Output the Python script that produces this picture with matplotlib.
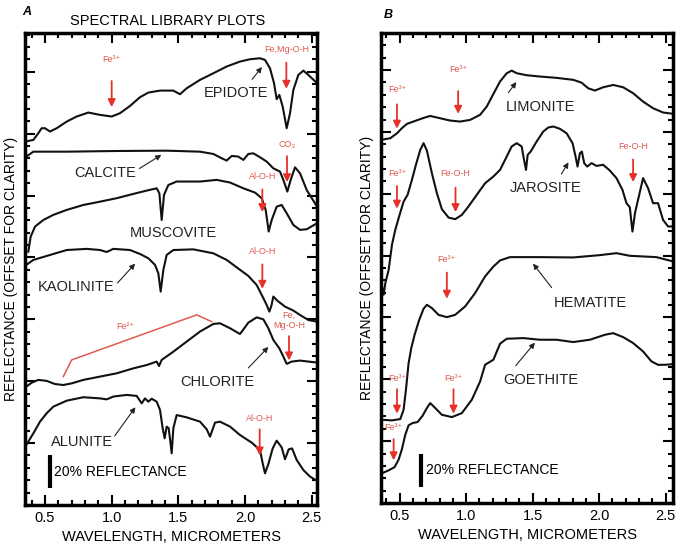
import matplotlib.pyplot as plt
from matplotlib.ticker import MultipleLocator

plt.rcParams['font.family'] = ['Liberation Sans', 'DejaVu Sans']

# ---- panel A spectra (wavelength um, reflectance %, offset for clarity) ----
epidote_wl = [0.35, 0.4125, 0.45, 0.475, 0.5, 0.5375, 0.5875, 0.6625, 0.7375, 0.825, 0.9125, 1.0, 1.0625,
              1.1375, 1.2125, 1.275, 1.3625, 1.4625, 1.5125, 1.5625, 1.6625, 1.7625, 1.8625, 1.9625, 2.0375,
              2.1125, 2.15, 2.1875, 2.2175, 2.2375, 2.2575, 2.2825, 2.3125, 2.3375, 2.3625, 2.4, 2.4375, 2.475, 2.54]
epidote_r = [220.2, 221.2, 225.3, 228.3, 228.3, 226.3, 228.3, 232.3, 235.4, 237.8, 236.4, 235.4, 237.4,
             241.8, 247.1, 249.9, 251.1, 251.1, 248.9, 252.5, 257.6, 261.6, 265.7, 268.7, 270.1,
             270.7, 269.7, 264.6, 255.6, 245.9, 248.5, 241.4, 228.3, 237.4, 251.5, 260.6, 263.2, 260.6, 255.6]

calcite_wl = [0.36, 0.4125, 0.6625, 1.0375, 1.4125, 1.6625, 1.7625, 1.825, 1.8625, 1.9, 1.95, 1.9875, 2.025,
              2.0625, 2.1125, 2.1625, 2.2125, 2.2625, 2.2875, 2.3175, 2.3425, 2.375, 2.4125, 2.4625, 2.54]
calcite_r = [211.1, 214.1, 214.1, 214.5, 214.7, 214.1, 212.7, 210.1, 208.7, 211.5, 211.1, 209.1, 212.7,
             213.1, 210.7, 208.1, 204.0, 202.0, 197.0, 189.9, 197.0, 204.6, 201.0, 190.9, 180.8]

muscovite_wl = [0.375, 0.3925, 0.425, 0.4875, 0.5625, 0.6625, 0.7875, 0.9125, 1.0375, 1.1625, 1.2625, 1.3375,
                1.3575, 1.375, 1.3925, 1.425, 1.4875, 1.6625, 1.7875, 1.8875, 1.9875, 2.075, 2.125, 2.155,
                2.1775, 2.2, 2.2375, 2.275, 2.3125, 2.3625, 2.4125, 2.4625, 2.54]
muscovite_r = [153.5, 162.6, 168.7, 172.7, 175.8, 178.8, 181.8, 183.8, 185.9, 188.5, 190.5, 191.9,
               188.9, 172.7, 187.9, 193.9, 196.0, 196.0, 197.0, 195.4, 191.9, 189.3, 185.9, 178.8,
               165.7, 172.7, 180.8, 181.8, 176.8, 169.7, 166.7, 167.1, 170.7]

kaolinite_wl = [0.36, 0.4125, 0.5375, 0.6625, 0.8125, 0.9125, 0.9625, 1.0125, 1.1375, 1.2125, 1.275, 1.325,
                1.35, 1.3675, 1.3875, 1.4125, 1.4625, 1.6125, 1.7625, 1.8625, 1.9375, 2.025, 2.0875, 2.1375,
                2.1625, 2.1825, 2.1975, 2.2125, 2.2425, 2.3, 2.3625, 2.425, 2.475, 2.54]
kaolinite_r = [145.5, 148.5, 151.5, 154.5, 155.2, 154.5, 153.3, 155.2, 154.5, 152.1, 149.5, 145.5,
               140.4, 129.3, 142.4, 151.5, 154.5, 154.9, 152.5, 148.5, 144.0, 138.8, 133.3, 125.3,
               121.2, 117.2, 120.6, 126.3, 123.8, 120.2, 117.8, 114.5, 112.1, 111.1]

chlorite_wl = [0.36, 0.4, 0.45, 0.5125, 0.575, 0.6375, 0.7, 0.7875, 0.9125, 1.0375, 1.1625, 1.2625, 1.3375,
               1.355, 1.375, 1.4625, 1.5625, 1.6625, 1.7625, 1.8125, 1.8875, 1.9625, 2.025, 2.0875, 2.1375,
               2.175, 2.2125, 2.2575, 2.2875, 2.3125, 2.35, 2.4125, 2.54]
chlorite_r = [71.7, 74.1, 75.8, 75.2, 73.3, 72.7, 73.7, 75.8, 77.8, 79.8, 82.8, 84.8, 86.9,
              84.2, 87.9, 92.9, 99.0, 105.1, 109.7, 110.1, 107.1, 103.6, 110.5, 113.7, 112.5,
              107.1, 100.0, 94.9, 89.9, 85.5, 86.9, 87.5, 86.3]

alunite_wl = [0.36, 0.4125, 0.4625, 0.5125, 0.5625, 0.6625, 0.7875, 0.9125, 0.9625, 1.0125, 1.1125, 1.1875,
              1.225, 1.25, 1.275, 1.3, 1.3375, 1.3625, 1.3825, 1.3975, 1.4125, 1.4275, 1.44, 1.45, 1.4625,
              1.4875, 1.5625, 1.6625, 1.7125, 1.7375, 1.775, 1.8125, 1.8875, 1.9625, 2.05, 2.1125, 2.1325,
              2.15, 2.175, 2.2075, 2.2375, 2.275, 2.3, 2.3275, 2.3525, 2.3875, 2.4375, 2.4875, 2.54]
alunite_r = [36.4, 43.4, 50.5, 55.6, 59.6, 63.2, 65.3, 64.6, 64.0, 65.7, 66.7, 66.1,
             61.6, 64.6, 62.6, 64.4, 62.6, 57.6, 46.5, 40.4, 47.5, 46.5, 38.4, 31.3, 46.5,
             54.5, 53.1, 50.5, 45.9, 41.4, 49.9, 50.5, 47.5, 42.4, 37.8, 33.3, 25.3,
             19.2, 24.8, 34.3, 39.0, 34.9, 27.7, 33.7, 34.3, 27.3, 21.2, 17.2, 14.7]

# ---- panel B spectra ----
limonite_wl = [0.36, 0.43, 0.48, 0.5175, 0.555, 0.6175, 0.68, 0.73, 0.805, 0.88, 0.955, 1.03, 1.105, 1.155,
               1.205, 1.255, 1.305, 1.3425, 1.38, 1.455, 1.555, 1.68, 1.805, 1.8675, 1.9175, 1.9675, 2.03,
               2.105, 2.18, 2.255, 2.33, 2.405, 2.48, 2.555]
limonite_r = [220.2, 221.2, 224.2, 227.3, 229.9, 231.7, 233.5, 234.7, 233.3, 231.9, 231.3, 232.3, 235.4, 240.4,
              248.1, 255.6, 260.6, 262.2, 260.6, 259.4, 258.6, 257.8, 256.6, 254.9, 251.5, 250.1, 252.1,
              253.5, 252.1, 248.5, 243.4, 239.4, 236.8, 236.0]

jarosite_wl = [0.36, 0.3675, 0.38, 0.3925, 0.4175, 0.4425, 0.4675, 0.4975, 0.53, 0.56, 0.5925, 0.6225, 0.655,
               0.68, 0.705, 0.7425, 0.78, 0.8175, 0.8675, 0.9175, 0.9675, 1.0175, 1.08, 1.1425, 1.205, 1.255,
               1.305, 1.3425, 1.38, 1.4175, 1.435, 1.45, 1.4625, 1.485, 1.53, 1.58, 1.6175, 1.655, 1.705,
               1.755, 1.8, 1.8225, 1.8375, 1.855, 1.87, 1.8875, 1.91, 1.9425, 1.98, 2.03, 2.08, 2.13, 2.175,
               2.205, 2.23, 2.25, 2.27, 2.295, 2.33, 2.3675, 2.405, 2.4425, 2.48, 2.5175, 2.555]
jarosite_r = [129.3, 131.3, 126.3, 133.3, 141.4, 156.6, 165.7, 174.1, 182.8, 186.9, 196.0, 205.1, 214.1,
              218.2, 213.7, 200.0, 187.9, 178.2, 173.1, 172.1, 174.7, 179.8, 186.9, 193.9, 198.0, 202.0,
              210.1, 216.2, 218.2, 216.2, 208.1, 202.0, 211.1, 213.1, 219.2, 225.3, 227.7, 228.3, 226.9,
              224.2, 218.2, 210.1, 204.0, 212.1, 213.1, 206.1, 204.0, 206.1, 204.4, 205.1, 201.6, 197.0, 189.9,
              181.8, 179.4, 164.6, 176.2, 184.8, 197.0, 190.9, 181.8, 181.8, 171.7, 167.7, 167.7]

hematite_wl = [0.36, 0.4425, 0.505, 0.53, 0.5475, 0.5675, 0.5875, 0.6125, 0.6475, 0.68, 0.705, 0.7425, 0.7925,
               0.855, 0.9175, 0.9925, 1.0675, 1.1425, 1.205, 1.255, 1.33, 1.555, 1.805, 2.005, 2.13, 2.23,
               2.43, 2.555]
hematite_r = [50.5, 50.1, 50.9, 56.6, 68.7, 84.8, 93.9, 102.0, 111.1, 117.8, 120.2, 118.2, 114.1,
              112.7, 114.1, 119.2, 127.3, 137.4, 143.4, 147.1, 149.1, 149.1, 148.9, 150.3, 151.5, 149.9,
              149.1, 146.5]

goethite_wl = [0.36, 0.4175, 0.4625, 0.4925, 0.5175, 0.5425, 0.5675, 0.5975, 0.635, 0.6725, 0.705, 0.73,
               0.7675, 0.8175, 0.8925, 0.9675, 1.0425, 1.105, 1.1425, 1.205, 1.255, 1.305, 1.43, 1.555,
               1.68, 1.805, 1.93, 2.0425, 2.105, 2.18, 2.255, 2.33, 2.3925, 2.4425, 2.4925, 2.555]
goethite_r = [17.8, 19.8, 21.8, 26.3, 32.7, 41.4, 47.1, 48.5, 49.1, 52.9, 57.6, 60.6,
              57.6, 53.5, 52.1, 54.5, 62.6, 73.7, 83.8, 86.9, 96.6, 99.6, 100.0, 99.0,
              99.0, 97.6, 99.0, 102.0, 103.0, 100.6, 97.0, 91.9, 85.9, 83.8, 83.8, 84.2]

spectra_a = [(epidote_wl, epidote_r), (calcite_wl, calcite_r), (muscovite_wl, muscovite_r),
             (kaolinite_wl, kaolinite_r), (chlorite_wl, chlorite_r), (alunite_wl, alunite_r)]
spectra_b = [(limonite_wl, limonite_r), (jarosite_wl, jarosite_r), (hematite_wl, hematite_r),
             (goethite_wl, goethite_r)]

# mineral names: (text, text x, text y, arrow tail, arrow tip)
names_a = [("EPIDOTE", 1.93, 249.5, (2.04, 256.6), (2.14, 266.7)),
           ("CALCITE", 0.95, 201.0, (1.19, 203.0), (1.39, 213.0)),
           ("MUSCOVITE", 1.46, 164.6, None, None),
           ("KAOLINITE", 0.73, 132.3, (1.03, 133.3), (1.19, 147.5)),
           ("CHLORITE", 1.79, 74.7, (2.01, 81.8), (2.19, 97.0)),
           ("ALUNITE", 0.78, 38.4, (1.01, 40.4), (1.19, 60.6))]
names_b = [("LIMONITE", 1.56, 240.4, (1.305, 247.5), (1.39, 256.6)),
           ("JAROSITE", 1.6, 191.0, (1.705, 198.0), (1.78, 208.0)),
           ("HEMATITE", 1.93, 121.2, (1.655, 129.3), (1.49, 146.5)),
           ("GOETHITE", 1.56, 74.7, (1.36, 82.0), (1.53, 98.5))]

# absorption features: (label, x, label y, arrow tail, arrow tip)
features_a = [("Fe³⁺", 1.0, 269.7, 258.6, 239.4),
              ("Fe,Mg-O-H", 2.31, 275.8, 269.7, 250.5),
              ("CO₃", 2.315, 218.2, 213.1, 193.9),
              ("Al-O-H", 2.13, 199.0, 192.9, 175.8),
              ("Al-O-H", 2.13, 153.5, 147.5, 129.3),
              ("Fe,\nMg-O-H", 2.33, 112.0, 104.0, 85.9),
              ("Al-O-H", 2.11, 52.5, 47.5, 28.3)]
features_b = [("Fe³⁺", 0.48, 250.5, 243.4, 225.3),
              ("Fe³⁺", 0.94, 262.6, 251.5, 234.3),
              ("Fe³⁺", 0.48, 200.0, 193.9, 176.8),
              ("Fe-O-H", 0.92, 200.0, 192.9, 174.7),
              ("Fe-O-H", 2.255, 216.2, 210.0, 192.9),
              ("Fe³⁺", 0.855, 147.5, 141.4, 122.2),
              ("Fe³⁺", 0.48, 75.8, 70.7, 52.5),
              ("Fe³⁺", 0.905, 75.8, 70.7, 52.5),
              ("Fe³⁺", 0.455, 45.5, 40.4, 24.2)]

# Fe2+ bracket over chlorite
bracket_wl = [0.6375, 0.7, 1.6375, 1.75]
bracket_r = [77.8, 87.9, 115.2, 111.1]

RED = '#e8302a'
RED_TXT = '#e05a50'

fig = plt.figure(figsize=(6.85, 5.51), dpi=100)
ax_a = fig.add_axes([0.0365, 0.0835, 0.4263, 0.8566])
ax_b = fig.add_axes([0.5562, 0.0871, 0.4263, 0.853])


def setup(ax, xlim, ylim, bar_x, bar_text_x):
    ax.set_xlim(*xlim)
    ax.set_ylim(*ylim)
    ax.xaxis.set_major_locator(MultipleLocator(0.5))
    ax.xaxis.set_minor_locator(MultipleLocator(0.1))
    ax.yaxis.set_major_locator(MultipleLocator(37.5))
    ax.yaxis.set_minor_locator(MultipleLocator(7.5))
    ax.tick_params(which='both', direction='in', top=True, right=True, width=1.5)
    ax.tick_params(which='major', length=7, labelsize=10.5, pad=4)
    ax.tick_params(which='minor', length=3.5)
    ax.set_yticklabels([])
    ax.xaxis.set_major_formatter(plt.FuncFormatter(lambda v, p: f"{v:.1f}"))
    for s in ax.spines.values():
        s.set_linewidth(2.5)
    ax.set_xlabel("WAVELENGTH, MICROMETERS", fontsize=10.5, labelpad=4)
    ax.set_ylabel("REFLECTANCE (OFFSET FOR CLARITY)", fontsize=10, labelpad=1)
    # 20% reflectance scale bar
    ax.plot([bar_x, bar_x], [10, 30], color='black', lw=3, solid_capstyle='butt')
    ax.text(bar_text_x, 20, "20% REFLECTANCE", fontsize=10, va='center', ha='left')


def draw(ax, spectra, names, features):
    for wl, r in spectra:
        ax.plot(wl, r, color='#111111', lw=1.5)
    for txt, tx, ty, tail, tip in names:
        ax.text(tx, ty, txt, fontsize=10.5, ha='center', va='center', color='#222222')
        if tail is not None:
            ax.annotate('', xy=tip, xytext=tail,
                        arrowprops=dict(arrowstyle='-|>', color='#222222', lw=0.8, mutation_scale=8))
    for txt, x, ly, tail, tip in features:
        ax.text(x, ly, txt, fontsize=6.5, ha='center', va='center', color=RED_TXT, linespacing=1.1)
        ax.annotate('', xy=(x, tip), xytext=(x, tail),
                    arrowprops=dict(arrowstyle='-|>', color=RED, lw=1.3, mutation_scale=11))


setup(ax_a, (0.35, 2.54), (0, 286), 0.5375, 0.57)
setup(ax_b, (0.36, 2.555), (0, 285), 0.6625, 0.695)
draw(ax_a, spectra_a, names_a, features_a)
draw(ax_b, spectra_b, names_b, features_b)

ax_a.plot(bracket_wl, bracket_r, color=RED_TXT, lw=1.1)
ax_a.text(1.1, 108.1, "Fe²⁺", fontsize=6.5, ha='center', va='center', color=RED_TXT)

fig.text(0.245, 0.962, "SPECTRAL LIBRARY PLOTS", fontsize=10.5, ha='center', va='center')
fig.text(0.033, 0.978, "A", fontsize=9, fontweight='bold', style='italic', ha='left', va='center')
fig.text(0.56, 0.973, "B", fontsize=9, fontweight='bold', style='italic', ha='left', va='center')

fig.savefig("out.png", dpi=100)
